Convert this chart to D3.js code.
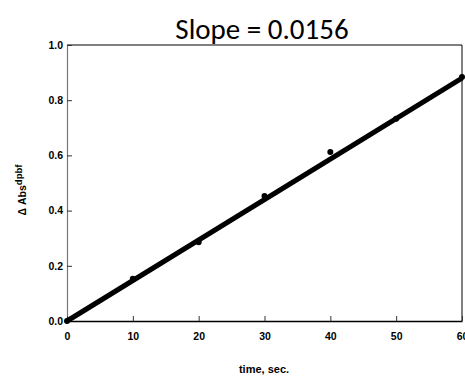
<!DOCTYPE html>
<html>
<head>
<meta charset="utf-8">
<script src="https://cdn.jsdelivr.net/npm/d3@7"></script>
<style>
  body { margin: 0; background: #fff; }
  svg { display: block; }
  .tick text { font-family: Arial, "Liberation Sans", sans-serif; font-weight: bold; font-size: 10.5px; fill: #000; }
</style>
</head>
<body>
<div id="chart"></div>
<script>
const timeVals = [0, 10, 20, 30, 40, 50, 60];
const absVals = [0.0, 0.153, 0.285, 0.453, 0.612, 0.733, 0.884];
const fitX = [0, 60];
const fitY = [0, 0.88];
const xTicks = [0, 10, 20, 30, 40, 50, 60];
const yTicks = [0.0, 0.2, 0.4, 0.6, 0.8, 1.0];
const titleText = "Slope = 0.0156";

const width = 465,
    height = 378,
    margin = { top: 45, right: 3, bottom: 57, left: 67 };

const svg = d3.select("#chart").append("svg")
    .attr("width", width)
    .attr("height", height);

const x = d3.scaleLinear()
    .domain([0, 60])
    .range([margin.left, width - margin.right]);

const y = d3.scaleLinear()
    .domain([0, 1])
    .range([height - margin.bottom, margin.top]);

// top and right frame
svg.append("line")
    .attr("x1", x(0)).attr("x2", x(60))
    .attr("y1", y(1)).attr("y2", y(1))
    .attr("stroke", "#000").attr("stroke-width", 1);
svg.append("line")
    .attr("x1", x(60)).attr("x2", x(60))
    .attr("y1", y(1)).attr("y2", y(0))
    .attr("stroke", "#000").attr("stroke-width", 1);

// y axis (gray, ticks inside)
const yAxis = svg.append("g")
    .attr("transform", `translate(${x(0)},0)`)
    .call(d3.axisRight(y).tickValues(yTicks).tickFormat(d3.format(".1f")).tickSize(5).tickSizeOuter(0));
yAxis.select(".domain").attr("stroke", "#777").attr("stroke-width", 1.2);
yAxis.selectAll(".tick line").attr("stroke", "#333");
yAxis.selectAll(".tick text")
    .attr("x", -4)
    .attr("text-anchor", "end");

// x axis (ticks inside)
const xAxis = svg.append("g")
    .attr("transform", `translate(0,${y(0)})`)
    .call(d3.axisTop(x).tickValues(xTicks).tickSize(5).tickSizeOuter(0));
xAxis.select(".domain").attr("stroke", "#000").attr("stroke-width", 1.6);
xAxis.selectAll(".tick line").attr("stroke", "#333");
xAxis.selectAll(".tick text")
    .attr("y", 12)
    .attr("dy", "0.71em");

// fitted line
svg.append("path")
    .datum(fitX.map((t, i) => ({ t: t, v: fitY[i] })))
    .attr("fill", "none")
    .attr("stroke", "#000")
    .attr("stroke-width", 5)
    .attr("d", d3.line().x(d => x(d.t)).y(d => y(d.v)));

// data points
svg.selectAll(".pt")
    .data(timeVals.map((t, i) => ({ t: t, v: absVals[i] })))
    .enter().append("circle")
    .attr("class", "pt")
    .attr("cx", d => x(d.t))
    .attr("cy", d => y(d.v))
    .attr("r", 3)
    .attr("fill", "#000");

// title
svg.append("text")
    .attr("x", 262)
    .attr("y", 39)
    .attr("text-anchor", "middle")
    .style("font-family", "Carlito, 'Open Sans', 'Noto Sans', sans-serif")
    .style("font-size", "29px")
    .attr("fill", "#000")
    .text(titleText);

// axis labels
svg.append("text")
    .attr("x", 264)
    .attr("y", 373)
    .attr("text-anchor", "middle")
    .style("font-family", "Arial, 'Liberation Sans', sans-serif")
    .style("font-weight", "bold")
    .style("font-size", "11px")
    .text("time, sec.");

const yl = svg.append("text")
    .attr("transform", "translate(26,190) rotate(-90)")
    .attr("text-anchor", "middle")
    .style("font-family", "Arial, 'Liberation Sans', sans-serif")
    .style("font-weight", "bold")
    .style("font-size", "10.5px");
yl.append("tspan").text("\u0394 Abs");
yl.append("tspan").attr("dy", -4).style("font-size", "9.5px").text("dpbf");
</script>
</body>
</html>
